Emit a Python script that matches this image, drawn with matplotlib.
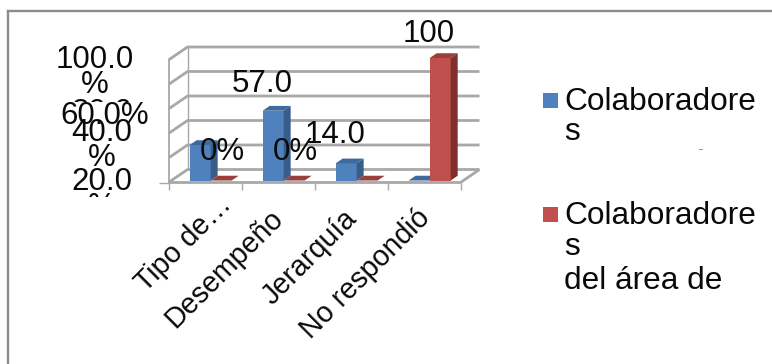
import matplotlib
matplotlib.use("Agg")
import matplotlib.pyplot as plt
from matplotlib.patches import Polygon, Rectangle
from matplotlib.transforms import Bbox

W, H = 772, 364
plt.rcParams["font.family"] = ["Liberation Sans", "DejaVu Sans"]

categories = ["Tipo de…", "Desempeño", "Jerarquía", "No respondió"]
series_names = ["Colaboradores", "Colaboradores\ndel área de"]
blue_values = [29.0, 57.0, 14.0, 0.0]
red_values = [0.0, 0.0, 0.0, 100.0]
grid_ticks = [0, 20, 40, 60, 80, 100]

blue_faces = ("#4F81BD", "#3F6A9E", "#385D8A")
red_faces = ("#C0504D", "#99403D", "#7F2F2D")
GRID = "#a8a8a8"
FRAME = "#8c8c8c"
TEXT = "#0a0a0a"
FS = 22.5

fig = plt.figure(figsize=(W / 100, H / 100), dpi=100)
fig.patch.set_facecolor("white")

# Front plane of the pseudo-3D box, placed in pixel terms
X0, X1, Y_BASE, Y_TOP = 168.5, 460.5, 182.5, 60.0
ax = fig.add_axes([X0 / W, 1 - Y_BASE / H, (X1 - X0) / W, (Y_BASE - Y_TOP) / H])
ax.set_xlim(0, len(categories))
ax.set_ylim(0, 100)
ax.axis("off")

# Depth vector from the front plane to the back wall, in data units
DEPTH_X = 19 / 73.0
DEPTH_Y = 13 / 1.225


def proj(x, v, d):
    return (x + d * DEPTH_X, v + d * DEPTH_Y)


def line(points, lw=2.0, z=1):
    xs, ys = zip(*points)
    ax.plot(xs, ys, color=GRID, lw=lw, clip_on=False, zorder=z, solid_capstyle="butt")


n = len(categories)
for t in grid_ticks:
    line([proj(0, t, 0), proj(0, t, 1), proj(n, t, 1)])
line([proj(0, 0, 0), proj(0, 100, 0)], lw=1.3)
line([proj(0, 100, 1), proj(0, 0, 1)], lw=1.0)
line([proj(0, 0, 0), proj(n, 0, 0), proj(n, 0, 1)], lw=2.0)

# Tick marks under the floor and at the left axis
for i in range(n + 1):
    line([(i, 0), (i, -6.5)], lw=1.0)
line([(0, 0), (-0.13, 0)], lw=1.0)

BAR_W = 0.288
BAR_X = 0.25
D0, D1 = 0.15, 0.52


def bar3d(x, v, faces):
    front, top, side = faces
    x1 = x + BAR_W
    ax.add_patch(Polygon([proj(x, 0, D0), proj(x1, 0, D0), proj(x1, v, D0), proj(x, v, D0)],
                         fc=front, ec="none", clip_on=False, zorder=3))
    ax.add_patch(Polygon([proj(x, v, D0), proj(x1, v, D0), proj(x1, v, D1), proj(x, v, D1)],
                         fc=top, ec="none", clip_on=False, zorder=3))
    ax.add_patch(Polygon([proj(x1, 0, D0), proj(x1, 0, D1), proj(x1, v, D1), proj(x1, v, D0)],
                         fc=side, ec="none", clip_on=False, zorder=3))


for i in range(n):
    bar3d(i + BAR_X, blue_values[i], blue_faces)
    bar3d(i + BAR_X + BAR_W, red_values[i], red_faces)


def px_text(x, y, s, ha="left", size=FS, clip=None, **kw):
    t = fig.text(x / W, 1 - y / H, s, ha=ha, va="baseline", fontsize=size, color=TEXT, **kw)
    if clip is not None:
        t.set_clip_box(Bbox([[0, H - clip], [W, H]]))
        t.set_clip_on(True)
    t.set_zorder(5)
    return t


# Value axis labels, wrapped and overlapping in their narrow slots
px_text(94.5, 68, "100.0", ha="center")
px_text(94.5, 93, "%", ha="center")
px_text(102, 121.5, "80.0", ha="center", clip=102)
px_text(105, 124, "60.0%", ha="center")
px_text(102, 141, "40.0", ha="center")
px_text(102, 166, "%", ha="center")
px_text(102, 190, "20.0", ha="center")
px_text(102, 215, "%", ha="center", clip=197)

# Value labels
px_text(262.5, 92, "57.0", ha="center")
px_text(222.5, 160.5, "0%", ha="center")
px_text(295, 160.5, "0%", ha="center")
px_text(335, 143, "14.0", ha="center")
px_text(428.5, 42, "100", ha="center")

# Rotated category labels; the truncated first one sits further along its slot
label_shift = [(8.5, -5.5), (-6.2, -15.5), (-6.2, -15.5), (-5.6, -15.5)]
for i, c in enumerate(categories):
    ax.annotate(c, xy=(i + 0.5, 0), xycoords="data", xytext=label_shift[i],
                textcoords="offset points", rotation=45, rotation_mode="anchor",
                ha="right", va="top", fontsize=20.6, color=TEXT, annotation_clip=False)

# Legend
overlay = fig.add_axes([0, 0, 1, 1], facecolor="none")
overlay.set_xlim(0, W)
overlay.set_ylim(H, 0)
overlay.axis("off")
overlay.add_patch(Rectangle((543, 93), 15, 15, fc=blue_faces[0], ec="none"))
overlay.add_patch(Rectangle((543, 207), 15, 15, fc=red_faces[0], ec="none"))
overlay.plot([7.5, 7.5], [H, 10.5], color=FRAME, lw=1.7, solid_capstyle="projecting")
overlay.plot([7.5, W], [10.5, 10.5], color=FRAME, lw=1.7, solid_capstyle="projecting")
overlay.plot([698.5, 702], [149, 149], color="#999999", lw=0.7)

LEG = 22.8
head, tail = series_names[0][:-1], series_names[0][-1]
px_text(564.5, 110, head, size=LEG)
px_text(564.5, 139.5, tail, size=LEG)
first, second = series_names[1].split("\n")
px_text(564.5, 224, first[:-1], size=LEG)
px_text(564.5, 255, first[-1], size=LEG)
px_text(564.5, 289, second, size=LEG)

fig.savefig("out.png", dpi=100)
